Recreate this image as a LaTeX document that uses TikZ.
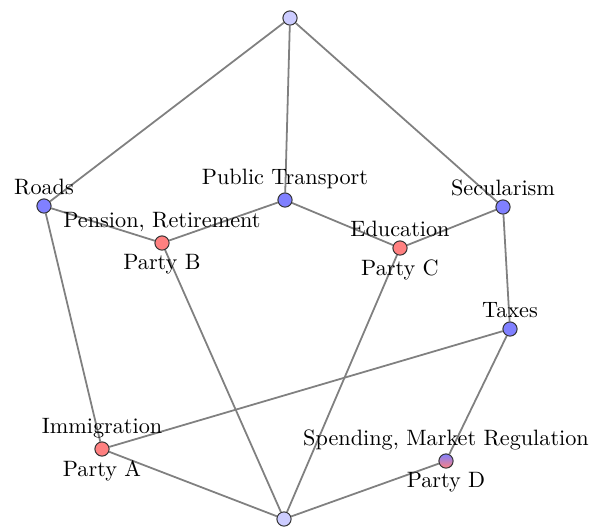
\documentclass[tikz,border=0pt]{standalone}
\usetikzlibrary{backgrounds}
\begin{document}
\begin{tikzpicture}[x=0.45pt,y=-0.45pt,
  vtx/.style={circle,draw=black!80,line width=0.45pt,inner sep=0pt,minimum size=6.4pt},
  issue/.style={vtx,fill=blue!50},
  party/.style={vtx,fill=red!50},
  mixed/.style={vtx,top color=blue!50,bottom color=red!50},
  endv/.style={vtx,fill=blue!20},
  edge/.style={draw=gray,line width=0.8pt},
  every label/.style={inner sep=1.5pt}]
\useasboundingbox (0,0) rectangle (597,529);
\node[endv] (top) at (290,18) {};
\node[endv] (bot) at (284,519) {};
\node[issue,label=above:Roads] (roads) at (44,206) {};
\node[party,label=above:{Pension, Retirement},label=below:Party B] (pens) at (162,243) {};
\node[issue,label=above:Public Transport] (pt) at (285,200) {};
\node[party,label=above:Education,label=below:Party C] (edu) at (400,248) {};
\node[issue,label=above:Secularism] (sec) at (503,207) {};
\node[issue,label=above:Taxes] (tax) at (510,329) {};
\node[party,label=above:Immigration,label=below:Party A] (imm) at (102,449) {};
\node[mixed,label=above:{Spending, Market Regulation},label=below:Party D] (spend) at (446,461) {};
\begin{scope}[on background layer]
\draw[edge] (top) -- (roads);
\draw[edge] (top) -- (pt);
\draw[edge] (top) -- (sec);
\draw[edge] (roads) -- (pens);
\draw[edge] (pens) -- (pt);
\draw[edge] (pt) -- (edu);
\draw[edge] (edu) -- (sec);
\draw[edge] (roads) -- (imm);
\draw[edge] (pens) -- (bot);
\draw[edge] (edu) -- (bot);
\draw[edge] (sec) -- (tax);
\draw[edge] (tax) -- (imm);
\draw[edge] (tax) -- (spend);
\draw[edge] (imm) -- (bot);
\draw[edge] (spend) -- (bot);
\end{scope}
\end{tikzpicture}
\end{document}
